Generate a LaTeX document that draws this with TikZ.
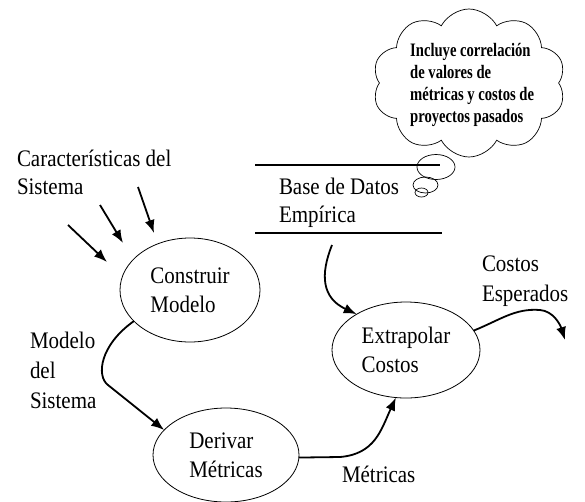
\documentclass[tikz,border=0pt]{standalone}
\usepackage{fontspec}
\setmainfont{Liberation Serif}[FakeStretch=0.885]
\usetikzlibrary{shapes.geometric,shapes.symbols,arrows.meta}
\begin{document}
\begin{tikzpicture}[x=1pt,y=-1pt,
  txt/.style={font=\fontsize{23.7}{28}\selectfont, inner sep=0pt, outer sep=0pt, align=left, anchor=north west},
  proc/.style={ellipse, draw, line width=0.8pt, inner sep=0pt, outer sep=0pt, font=\fontsize{23.7}{29}\selectfont, align=left},
  flow/.style={line width=1.8pt, -{Latex[length=13pt,width=10pt]}},
  bubble/.style={line width=0.7pt},
  dbline/.style={line width=2pt}]
\fill[white] (0,0) rectangle (585,501);
\useasboundingbox (0,0) rectangle (585,501);

% cloud note
\node[cloud, draw, line width=0.7pt, cloud puffs=10, cloud puff arc=125, cloud ignores aspect,
      minimum width=193, minimum height=148, inner sep=0pt] (nube) at (469,83) {};
\node[anchor=north west, inner sep=0pt, xscale=0.87, align=left,
      font=\bfseries\fontsize{19}{21.7}\selectfont] (nota) at (410,43.5)
  {Incluye correlación\\de valores de\\métricas y costos de\\proyectos pasados};
\draw[bubble] (436,167) ellipse [x radius=19, y radius=12.5];
\draw[bubble] (425.5,185) ellipse [x radius=12.5, y radius=8];
\draw[bubble] (421.5,192.5) ellipse [x radius=6.5, y radius=4.5];

% data store
\draw[dbline] (255,165) -- (440,165);
\draw[dbline] (255,233) -- (442,233);
\node[txt] (bd) at (279,178.5) {Base de Datos\\Empírica};

% labels
\node[txt] (carac) at (17,150.5) {Características del\\Sistema};
\node[txt, font=\fontsize{23.7}{30}\selectfont] (mds) at (30,332.5) {Modelo\\del\\Sistema};
\node[txt, font=\fontsize{23.7}{30}\selectfont] (cesp) at (482,255.5) {Costos\\Esperados};
\node[txt] (met) at (342,466.5) {Métricas};

% processes
\node[proc, minimum width=140, minimum height=104] (construir) at (190,290) {Construir\\Modelo};
\node[proc, minimum width=146, minimum height=94] (derivar) at (226,455) {Derivar\\Métricas};
\node[proc, minimum width=148, minimum height=96] (extrap) at (406,350) {Extrapolar\\Costos};

% free ends
\coordinate (a1s) at (68,225);  \coordinate (a1e) at (107,262);
\coordinate (a2s) at (100,205); \coordinate (a2e) at (123,243);
\coordinate (a3s) at (138,187); \coordinate (a3e) at (154,233);
\coordinate (ebd) at (332,245);
\coordinate (cout) at (565,340);

% connectors
\draw[flow] (a1s) -- (a1e);
\draw[flow] (a2s) -- (a2e);
\draw[flow] (a3s) -- (a3e);
\draw[flow] (construir.209) .. controls (100,345) and (96,376) .. (108,385) -- (derivar.158);
\draw[flow] (ebd) .. controls (320,275) and (322,298) .. (extrap.144);
\draw[flow] (derivar.-2) -- (340,457) .. controls (375,454) and (381,430) .. (extrap.258);
\draw[flow] (extrap.16) .. controls (500,320) and (515,308) .. (540,310) .. controls (553,311) and (560,324) .. (cout);
\end{tikzpicture}
\end{document}
